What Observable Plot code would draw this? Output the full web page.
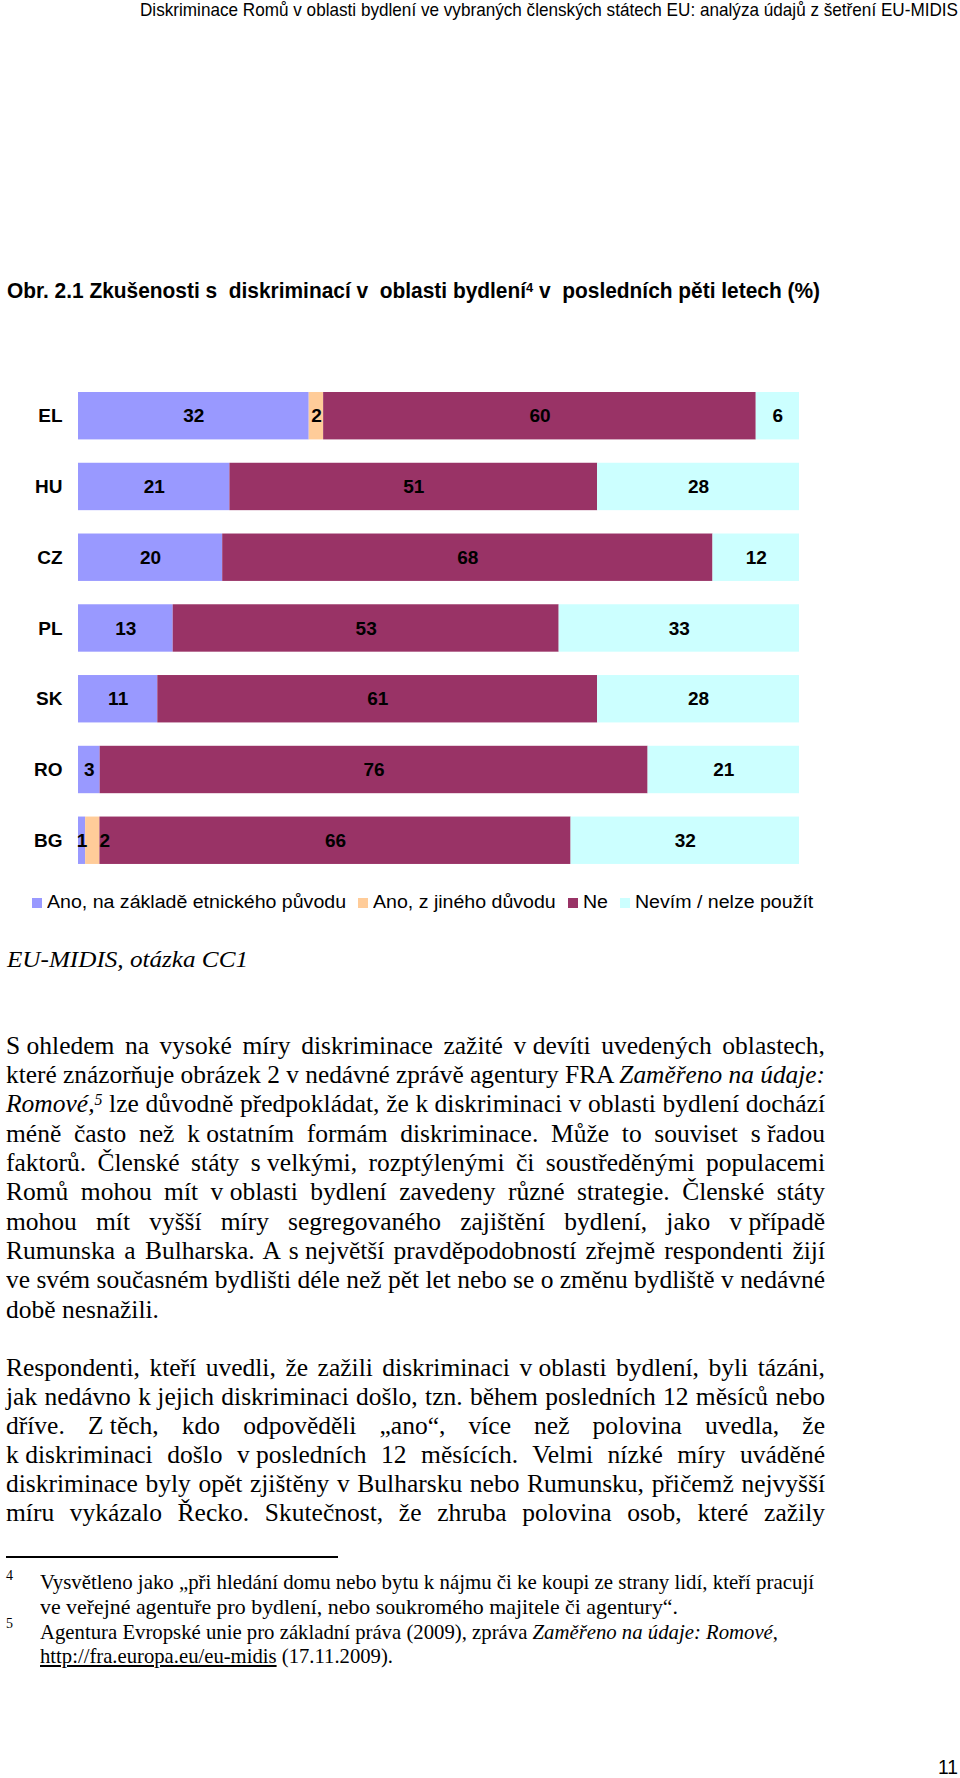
<!DOCTYPE html>
<html><head><meta charset="utf-8">
<script src="https://cdn.jsdelivr.net/npm/d3@7"></script>
<script src="https://cdn.jsdelivr.net/npm/@observablehq/plot@0.6"></script>
<style>
html,body{margin:0;padding:0;background:#fff;}
#page{position:relative;width:960px;height:1778px;overflow:hidden;background:#fff;}
.t{position:absolute;white-space:nowrap;color:#000;}
.sup{position:relative;top:-0.45em;font-size:0.62em;vertical-align:baseline;}
</style></head>
<body><div id="page"></div>
<script>
// ---- chart data ----
const countries = ["EL", "HU", "CZ", "PL", "SK", "RO", "BG"];
const seriesNames = ["Ano, na základě etnického původu", "Ano, z jiného důvodu", "Ne", "Nevím / nelze použít"];
const seriesColors = ["#9999FF", "#FFCC99", "#993366", "#CCFFFF"];
const ethnicValues = [32, 21, 20, 13, 11, 3, 1];
const otherReasonValues = [2, null, null, null, null, null, 2];
const noValues = [60, 51, 68, 53, 61, 76, 66];
const dontKnowValues = [6, 28, 12, 33, 28, 21, 32];

// ---- page texts ----
const headerText = "Diskriminace Romů v oblasti bydlení ve vybraných členských státech EU: analýza údajů z šetření EU-MIDIS";
const titleText = "Obr. 2.1 Zkušenosti s&nbsp; diskriminací v&nbsp; oblasti bydlení<span class='sup'>4</span> v&nbsp; posledních pěti letech (%)";
const sourceText = "EU-MIDIS, otázka CC1";
const para1 = [
  "S~ohledem na vysoké míry diskriminace zažité v~devíti uvedených oblastech,",
  "které znázorňuje obrázek 2 v~nedávné zprávě agentury FRA <i>Zaměřeno na údaje:</i>",
  "<i>Romové,</i><span class='sup'><i>5</i></span> lze důvodně předpokládat, že k~diskriminaci v~oblasti bydlení dochází",
  "méně často než k~ostatním formám diskriminace. Může to souviset s~řadou",
  "faktorů. Členské státy s~velkými, rozptýlenými či soustředěnými populacemi",
  "Romů mohou mít v~oblasti bydlení zavedeny různé strategie. Členské státy",
  "mohou mít vyšší míry segregovaného zajištění bydlení, jako v~případě",
  "Rumunska a Bulharska. A s~největší pravděpodobností zřejmě respondenti žijí",
  "ve svém současném bydlišti déle než pět let nebo se o změnu bydliště v~nedávné",
  "době nesnažili."
];
const para2 = [
  "Respondenti, kteří uvedli, že zažili diskriminaci v~oblasti bydlení, byli tázáni,",
  "jak nedávno k~jejich diskriminaci došlo, tzn. během posledních 12 měsíců nebo",
  "dříve. Z~těch, kdo odpověděli „ano“, více než polovina uvedla, že",
  "k~diskriminaci došlo v~posledních 12 měsících. Velmi nízké míry uváděné",
  "diskriminace byly opět zjištěny v Bulharsku nebo Rumunsku, přičemž nejvyšší",
  "míru vykázalo Řecko. Skutečnost, že zhruba polovina osob, které zažily"
];
const footnoteMarks = ["4", "5"];
const footnote4 = [
  "Vysvětleno jako „při hledání domu nebo bytu k~nájmu či ke koupi ze strany lidí, kteří pracují",
  "ve veřejné agentuře pro bydlení, nebo soukromého majitele či agentury“."
];
const footnote5 = [
  "Agentura Evropské unie pro základní práva (2009), zpráva <i>Zaměřeno na údaje: Romové</i>,",
  "<u>http://fra.europa.eu/eu-midis</u> (17.11.2009)."
];
const pageNumber = "11";

// ---- helpers ----
const page = document.getElementById("page");
const SANS = "'Liberation Sans', Arial, sans-serif";
const SERIF = "'Liberation Serif', 'Times New Roman', serif";
function line(html, o) {
  const d = document.createElement("div");
  d.className = "t";
  d.style.left = o.x + "px";
  d.style.top = (o.y - o.lh / 2) + "px";
  d.style.lineHeight = o.lh + "px";
  d.style.fontFamily = o.font;
  d.style.fontSize = o.size + "px";
  d.style.fontWeight = o.weight || "normal";
  d.style.fontStyle = o.italic ? "italic" : "normal";
  const nSpaces = (html.replace(/<[^>]*>/g, "").match(/ /g) || []).length;
  d.innerHTML = html.replace(/~/g, '<span style="word-spacing:0">&nbsp;</span>');
  page.appendChild(d);
  const nat = d.getBoundingClientRect().width;
  if (o.w) {
    if (o.mode === "justify" && nat <= o.w && nSpaces > 0) {
      d.style.wordSpacing = ((o.w - nat) / nSpaces) + "px";
    } else {
      d.style.transformOrigin = "0 50%";
      d.style.transform = `scaleX(${o.w / nat})`;
    }
  }
  return d;
}

// header & title
line(headerText, {x: 140, y: 10, lh: 22, font: SANS, size: 19, w: 818});
line(titleText, {x: 7, y: 291, lh: 28, font: SANS, size: 22, weight: "bold", w: 813});

// ---- chart ----
const seriesValues = [ethnicValues, otherReasonValues, noValues, dontKnowValues];
const rows = [];
countries.forEach((c, i) => {
  seriesNames.forEach((s, j) => {
    const v = seriesValues[j][i];
    if (v != null) rows.push({country: c, series: s, value: v});
  });
});
// small label that Excel nudged to the right (BG, "other reason")
const nudged = d => d.country === "BG" && d.series === seriesNames[1];
const stackOpts = {x: "value", y: "country", z: "series", offset: "normalize", order: seriesNames};
const chart = Plot.plot({
  width: 960, height: 560,
  marginLeft: 78, marginRight: 161, marginTop: 28.65, marginBottom: 12.7,
  x: {axis: null, domain: [0, 1]},
  y: {domain: countries, padding: 0.33, round: false, label: null},
  color: {domain: seriesNames, range: seriesColors},
  style: {fontFamily: SANS, background: "transparent", color: "black"},
  marks: [
    Plot.barX(rows, Plot.stackX({...stackOpts, fill: "series"})),
    Plot.text(rows, Plot.stackX({...stackOpts, text: d => nudged(d) ? null : String(d.value),
      fill: "black", fontWeight: "bold", fontSize: 19})),
    Plot.text(rows, Plot.stackX({...stackOpts, text: d => nudged(d) ? String(d.value) : null,
      fill: "black", fontWeight: "bold", fontSize: 19, dx: 12})),
    Plot.axisY({tickSize: 0, tickPadding: 16, fontSize: 19, fontWeight: "bold", label: null, color: "black"})
  ]
});
chart.style.position = "absolute";
chart.style.left = "0px";
chart.style.top = "340px";
page.appendChild(chart);

// ---- legend ----
(function () {
  const y = 902, sq = 10;
  const items = seriesNames.map((name, i) => {
    const t = line(name, {x: 0, y, lh: 22, font: SANS, size: 18});
    return {t, w: t.getBoundingClientRect().width, color: seriesColors[i]};
  });
  const gapSq = 5, gapItem = 12, x0 = 32, x1 = 813;
  const fixed = items.length * (sq + gapSq) + (items.length - 1) * gapItem;
  const totalText = items.reduce((a, b) => a + b.w, 0);
  const k = (x1 - x0 - fixed) / totalText;
  let x = x0;
  items.forEach(it => {
    const s = document.createElement("div");
    s.style.cssText = `position:absolute;left:${x}px;top:${y - sq / 2 + 1}px;width:${sq}px;height:${sq}px;background:${it.color}`;
    page.appendChild(s);
    x += sq + gapSq;
    it.t.style.left = x + "px";
    it.t.style.transformOrigin = "0 50%";
    it.t.style.transform = `scaleX(${k})`;
    x += it.w * k + gapItem;
  });
})();

// source
line(sourceText, {x: 7, y: 959, lh: 28, font: SERIF, size: 24, italic: true, w: 241});

// body paragraphs
const BODY = {x: 6, lh: 29, font: SERIF, size: 25.5, w: 819, mode: "justify"};
para1.forEach((s, i) => {
  const last = i === para1.length - 1;
  line(s, {...BODY, y: 1045 + 29.35 * i, w: last ? null : BODY.w});
});
para2.forEach((s, i) => {
  line(s, {...BODY, y: 1367 + 29.1 * i});
});

// footnote rule
const rule = document.createElement("div");
rule.style.cssText = "position:absolute;left:6px;top:1556px;width:332px;height:1.6px;background:#000";
page.appendChild(rule);

// footnotes
const FN = {x: 40, lh: 24, font: SERIF, size: 21};
line(footnoteMarks[0], {x: 6, y: 1576, lh: 16, font: SERIF, size: 14});
line(footnote4[0], {...FN, y: 1582, w: 774});
line(footnote4[1], {...FN, y: 1607, w: 638});
line(footnoteMarks[1], {x: 6, y: 1624, lh: 16, font: SERIF, size: 14});
line(footnote5[0], {...FN, y: 1632, w: 738});
line(footnote5[1], {...FN, y: 1656, w: 353});

// page number
line(pageNumber, {x: 938, y: 1767, lh: 24, font: SANS, size: 20, w: 20});
</script>
</body></html>
